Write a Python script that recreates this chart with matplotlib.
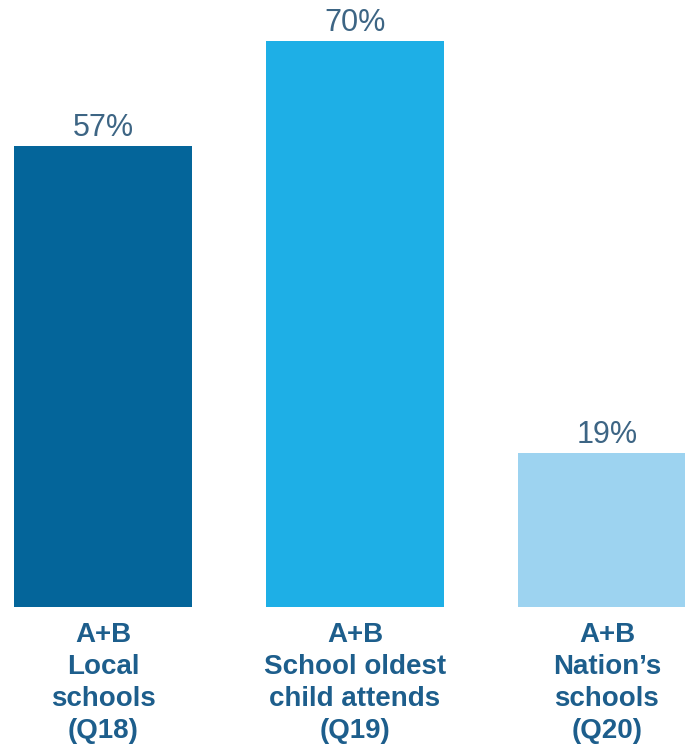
import matplotlib
matplotlib.use("Agg")
import matplotlib.pyplot as plt
import matplotlib.transforms as mtransforms

# A+B grades by school group
groups = ["A+B\nLocal\nschools\n(Q18)",
          "A+B\nSchool oldest\nchild attends\n(Q19)",
          "A+B\nNation\u2019s\nschools\n(Q20)"]
values = [57, 70, 19]
colors = ["#04659A", "#1EAFE6", "#9DD3F0"]

plt.rcParams['font.family'] = ['Liberation Sans', 'DejaVu Sans']

fig = plt.figure(figsize=(6.85, 7.45), dpi=100)
ax = fig.add_axes([0, 138 / 745, 1, 607 / 745])

x = list(range(len(values)))
bars = ax.bar(x, values, width=0.706, color=colors)
ax.set_xlim(-0.409, 2.31)
ax.set_ylim(0, 75.07)
ax.axis("off")

for rect, v in zip(bars, values):
    ax.annotate(f"{v}%", (rect.get_x() + rect.get_width() / 2, v),
                xytext=(0, 7.5), textcoords="offset points",
                ha="center", va="baseline", fontsize=22, color="#3D6584")

trans = mtransforms.blended_transform_factory(ax.transData, fig.transFigure)
for xi, label in zip(x, groups):
    ax.text(xi, 0.165, label, transform=trans, ha="center", va="top",
            fontsize=20, fontweight="bold", color="#1D5E8C",
            linespacing=1.3, clip_on=False)

fig.savefig("out.png", dpi=100)
